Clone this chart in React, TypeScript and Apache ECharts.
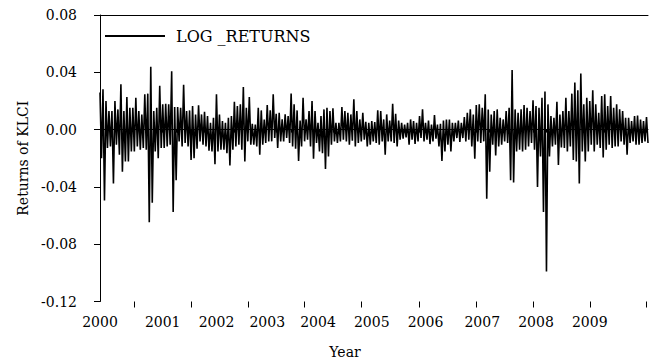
import React, { useEffect, useRef } from 'react';
import * as echarts from 'echarts';

// Daily log returns of KLCI:
// each pair is (highest, lowest) return inside one narrow time slice.
const years = ['2000', '2001', '2002', '2003', '2004', '2005', '2006', '2007', '2008', '2009'];

const r2000 = [
  0.0259, -0.020, 0.0282, -0.0494, 0.020, -0.0129, 0.0129, -0.0118, 0.0129, -0.0376,
  0.020, -0.0106, 0.0141, -0.0176, 0.0317, -0.0294, 0.0129, -0.0223, 0.0228, -0.0223,
  0.0153, -0.0153, 0.0153, -0.0153, 0.0223, -0.0118, 0.0129, -0.0141, 0.0106, -0.0129,
  0.0247, -0.0141, 0.0251, -0.0646, 0.0439, -0.051, 0.0129, -0.0153, 0.0153, -0.020,
  0.0306, -0.0129,
];
const r2001 = [
  0.0176, -0.0129, 0.0181, -0.0118, 0.0176, -0.0106, 0.0407, -0.0576, 0.0157, -0.0353,
  0.0157, -0.0082, 0.0153, -0.0118, 0.0313, -0.0094, 0.0129, -0.0118, 0.0134, -0.0212,
  0.0165, -0.020, 0.0106, -0.0134, 0.0169, -0.0082, 0.0106, -0.0106, 0.0125, -0.0118,
  0.0094, -0.0148, 0.0047, -0.0153, 0.0082, -0.0242,
];
const r2002 = [
  0.0247, -0.0153, 0.0106, -0.0141, 0.0059, -0.0141, 0.0047, -0.0165, 0.0082, -0.0251,
  0.0094, -0.0141, 0.0195, -0.0118, 0.0165, -0.0106, 0.0176, -0.0141, 0.0298, -0.0223,
  0.0153, -0.0082, 0.0228, -0.0106, 0.004, -0.0106, 0.0035, -0.0118, 0.0153, -0.0176,
  0.0134, -0.0106, 0.0071, -0.0094,
];
const r2003 = [
  0.0172, -0.0082, 0.0134, -0.0082, 0.0247, -0.0059, 0.011, -0.0129, 0.0118, -0.0082,
  0.0071, -0.0082, 0.0106, -0.0059, 0.0094, -0.0094, 0.0251, -0.0118, 0.0176, -0.0134,
  0.0134, -0.0219, 0.0063, -0.0118, 0.0223, -0.0082, 0.0071, -0.0071, 0.0129, -0.0118,
  0.020, -0.0204, 0.0129, -0.0094,
];
const r2004 = [
  0.0047, -0.0153, 0.0094, -0.0165, 0.0141, -0.0275, 0.0153, -0.0188, 0.0129, -0.0106,
  0.0148, -0.0082, 0.0047, -0.0094, 0.0047, -0.0082, 0.0157, -0.0071, 0.0129, -0.0082,
  0.0118, -0.0106, 0.0106, -0.0078, 0.0212, -0.0118, 0.0129, -0.0094, 0.0071, -0.0082,
  0.0118, -0.0071, 0.0054, -0.0118, 0.0047, -0.0106,
];
const r2005 = [
  0.0059, -0.0082, 0.0052, -0.0094, 0.0134, -0.0106, 0.0129, -0.0082, 0.0071, -0.0176,
  0.0106, -0.0082, 0.0063, -0.0082, 0.0181, -0.0094, 0.011, -0.0118, 0.0063, -0.0071,
  0.0047, -0.0063, 0.0035, -0.0054, 0.0047, -0.0106, 0.0071, -0.0071, 0.0059, -0.0101,
  0.0047, -0.0082, 0.0094, -0.0059, 0.0141, -0.0082,
];
const r2006 = [
  0.0047, -0.0071, 0.0063, -0.0101, 0.0035, -0.0082, 0.0101, -0.0063, 0.0035, -0.0118,
  0.004, -0.0219, 0.0063, -0.0153, 0.0071, -0.0106, 0.0071, -0.0153, 0.0047, -0.0082,
  0.0047, -0.0059, 0.0063, -0.0087, 0.0047, -0.0059, 0.0087, -0.0082, 0.0118, -0.0071,
  0.0141, -0.0118, 0.0106, -0.0204, 0.0172, -0.0082, 0.0176, -0.0094,
];
const r2007 = [
  0.0153, -0.0082, 0.0247, -0.0482, 0.0141, -0.0294, 0.0106, -0.0106, 0.0129, -0.0181,
  0.0141, -0.0118, 0.0082, -0.0106, 0.0071, -0.0082, 0.0129, -0.0094, 0.0153, -0.0353,
  0.0416, -0.0369, 0.0141, -0.0153, 0.0118, -0.0141, 0.0141, -0.0153, 0.0172, -0.0141,
  0.0153, -0.0118, 0.0129, -0.0094, 0.0204, -0.0141,
];
const r2008 = [
  0.0165, -0.040, 0.0153, -0.0188, 0.0223, -0.0576, 0.0266, -0.099, 0.0176, -0.0188,
  0.0094, -0.0118, 0.0082, -0.0106, 0.0195, -0.0247, 0.0106, -0.0125, 0.0129, -0.0129,
  0.0223, -0.0153, 0.0129, -0.0118, 0.0251, -0.0212, 0.0329, -0.0223, 0.0275, -0.0376,
  0.0392, -0.0153, 0.0176, -0.0223, 0.0223, -0.0153,
];
const r2009 = [
  0.020, -0.0106, 0.0275, -0.0153, 0.0176, -0.0106, 0.0118, -0.0129, 0.0235, -0.0195,
  0.0247, -0.0141, 0.0165, -0.0106, 0.0235, -0.0129, 0.0153, -0.0118, 0.0176, -0.0118,
  0.0141, -0.0082, 0.0129, -0.0106, 0.0082, -0.0176, 0.0082, -0.0094, 0.0059, -0.0082,
  0.0094, -0.0106, 0.0099, -0.0106, 0.0071, -0.0094, 0.0059, -0.0082, 0.0087, -0.0094,
];

const yMin = -0.12;
const yMax = 0.08;
const yStep = 0.04;
const seriesName = 'LOG _RETURNS';
const yName = 'Returns of KLCI';
const xName = 'Year';

const FONT = 'DejaVu Serif';

export default function App() {
  const ref = useRef<HTMLDivElement>(null);

  useEffect(() => {
    if (!ref.current) return;
    const chart = echarts.init(ref.current, null, { renderer: 'svg' });

    const perYear = [r2000, r2001, r2002, r2003, r2004, r2005, r2006, r2007, r2008, r2009];
    const categories: string[] = [];
    const values: number[] = [];
    perYear.forEach((arr, yi) => {
      arr.forEach((v, k) => {
        categories.push(years[yi] + '|' + k);
        values.push(v);
      });
    });

    // tick marks of the time axis (style only)
    const SHORT = 9.543;
    const OFF = 3.62;
    const isTick = (i: number, every: number, start: number) => {
      const k = Math.round((i - start) / every);
      return Math.round(start + every * k) === i;
    };

    const option: any = {
      animation: false,
      backgroundColor: '#fff',
      grid: { left: 100, right: 1, top: 15, bottom: 60.5, containLabel: false, outerBoundsMode: 'none' },
      legend: {
        data: [seriesName],
        left: 100,
        top: 23,
        icon: 'rect',
        itemWidth: 60,
        itemHeight: 2,
        itemStyle: { color: '#000' },
        textStyle: { fontFamily: FONT, fontSize: 16, color: '#000', padding: [0, 0, 0, 6] },
      },
      xAxis: [
        {
          type: 'category',
          data: categories,
          boundaryGap: false,
          position: 'bottom',
          axisLine: { show: true, lineStyle: { color: '#000', width: 1 } },
          axisTick: {
            show: true,
            length: 3,
            lineStyle: { color: '#000' },
            interval: (i: number) => isTick(i, SHORT, OFF),
          },
          axisLabel: {
            show: true,
            interval: (_i: number, v: string) => v.endsWith('|0'),
            formatter: (v: string) => v.split('|')[0],
            fontFamily: FONT,
            fontSize: 14,
            color: '#000',
            margin: 13,
          },
          splitLine: { show: false },
          name: xName,
          nameLocation: 'middle',
          nameGap: 43,
          nameTextStyle: { fontFamily: FONT, fontSize: 14, color: '#000', padding: [0, 58, 0, 0] },
        },
        {
          type: 'category',
          data: categories,
          boundaryGap: false,
          position: 'bottom',
          axisLine: { show: false },
          axisTick: {
            show: true,
            length: 6,
            lineStyle: { color: '#000' },
            interval: (i: number) => isTick(i, SHORT * 4, OFF + SHORT * 2),
          },
          axisLabel: { show: false },
          splitLine: { show: false },
        },
        {
          type: 'category',
          data: categories,
          boundaryGap: false,
          position: 'top',
          axisLine: { show: true, lineStyle: { color: '#000', width: 1 } },
          axisTick: { show: false },
          axisLabel: { show: false },
          splitLine: { show: false },
        },
      ],
      yAxis: {
        type: 'value',
        min: yMin,
        max: yMax,
        interval: yStep,
        axisLine: { show: true, lineStyle: { color: '#000', width: 1 } },
        axisTick: { show: true, length: 6, lineStyle: { color: '#000' } },
        splitLine: { show: false },
        axisLabel: {
          fontFamily: FONT,
          fontSize: 14,
          color: '#000',
          margin: 23,
          formatter: (v: number) => (Math.abs(v) < 1e-9 ? '0.00' : v.toFixed(2)),
        },
        name: yName,
        nameLocation: 'middle',
        nameGap: 70,
        nameTextStyle: { fontFamily: FONT, fontSize: 14, color: '#000' },
      },
      series: [
        {
          name: seriesName,
          type: 'line',
          xAxisIndex: 0,
          data: values,
          symbol: 'none',
          lineStyle: { color: '#000', width: 1.6 },
          itemStyle: { color: '#000' },
        },
      ],
    };

    chart.setOption(option);
    return () => chart.dispose();
  }, []);

  return (
    <div
      ref={ref}
      style={{ position: 'fixed', left: 0, top: 0, width: 649, height: 362, background: '#fff' }}
    />
  );
}
